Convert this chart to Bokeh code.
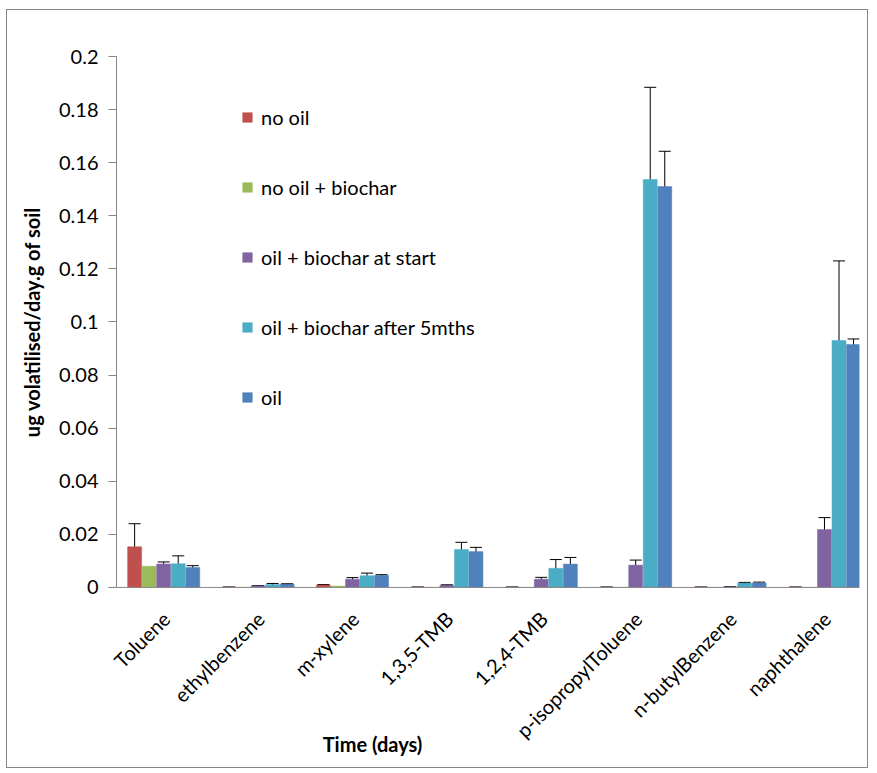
import math
from bokeh.plotting import figure
from bokeh.models import (ColumnDataSource, Whisker, TeeHead, Range1d, FixedTicker,
                          Legend, LegendItem, CustomJSTickFormatter)
from bokeh.embed import file_html
from bokeh.resources import INLINE

categories = ["Toluene", "ethylbenzene", "m-xylene", "1,3,5-TMB", "1,2,4-TMB",
              "p-isopropylToluene", "n-butylBenzene", "naphthalene"]

series_names = ["no oil", "no oil + biochar", "oil + biochar at start",
                "oil + biochar after 5mths", "oil"]
colors = ["#C0504D", "#9BBB59", "#8064A2", "#4BACC6", "#4F81BD"]

no_oil = [0.0153, 0.0001, 0.0009, 0.0001, 0.0001, 0.0001, 0.0001, 0.0001]
no_oil_err = [0.0087, 0.0, 0.0002, 0.0, 0.0, 0.0, 0.0, 0.0]
no_oil_biochar = [0.0080, 0.0, 0.0005, 0.0, 0.0, 0.0, 0.0, 0.0]
oil_bc_start = [0.0088, 0.0006, 0.0031, 0.0008, 0.0031, 0.0084, 0.0002, 0.0218]
oil_bc_start_err = [0.0008, 0.0001, 0.0006, 0.0002, 0.0007, 0.0019, 0.0, 0.0045]
oil_bc_5m = [0.0089, 0.0011, 0.0044, 0.0143, 0.0072, 0.1537, 0.0016, 0.0930]
oil_bc_5m_err = [0.0030, 0.0004, 0.0010, 0.0027, 0.0033, 0.0347, 0.0003, 0.0300]
oil = [0.0075, 0.0012, 0.0045, 0.0135, 0.0088, 0.1510, 0.0017, 0.0915]
oil_err = [0.0007, 0.0002, 0.0003, 0.0016, 0.0025, 0.0133, 0.0003, 0.0021]

y_ticks = [0, 0.02, 0.04, 0.06, 0.08, 0.1, 0.12, 0.14, 0.16, 0.18, 0.2]
x_title = "Time (days)"
y_title = "ug volatilised/day.g of soil"

values = [no_oil, no_oil_biochar, oil_bc_start, oil_bc_5m, oil]
errors = [no_oil_err, None, oil_bc_start_err, oil_bc_5m_err, oil_err]

FONT = "Lato"
W, H = 862, 759
# The frame covers (almost) the whole canvas; the value axis is pinned at x=-0.5
# and the category labels / titles are drawn in data space around the bars.
p = figure(width=W, height=H, output_backend="svg", toolbar_location=None,
           x_range=Range1d(-1.6123, 7.371), y_range=Range1d(-0.0667, 0.21394),
           x_axis_location=None,
           min_border_left=4, min_border_right=10, min_border_top=9,
           min_border_bottom=5)
p.styles = {"border": "1px solid #868686", "margin-left": "6px", "margin-top": "9px"}
p.outline_line_color = None
p.grid.visible = False

step = 0.154
bw = 0.148
items = []
for k, (name, vals, errs, col) in enumerate(zip(series_names, values, errors, colors)):
    xs = [i + (k - 2) * step for i in range(len(categories))]
    src = ColumnDataSource(dict(x=xs, top=vals))
    r = p.vbar(x="x", top="top", width=bw, source=src, fill_color=col,
               line_color=col, line_width=0.5)
    items.append(LegendItem(label=name, renderers=[r]))
    if errs is not None:
        esrc = ColumnDataSource(dict(x=xs, up=[v + e for v, e in zip(vals, errs)],
                                     lo=[max(v - e, 0) for v, e in zip(vals, errs)]))
        w = Whisker(base="x", upper="up", lower="lo", source=esrc,
                    line_color="black", line_width=1,
                    upper_head=TeeHead(size=12, line_color="black", line_width=1),
                    lower_head=TeeHead(size=12, line_color="black", line_width=1))
        p.add_layout(w)

# category axis line at y = 0 (starts at the value-axis tick)
p.segment(x0=[-0.585], y0=[0], x1=[7.371], y1=[0], line_color="#868686", line_width=1)

# rotated category labels
lab_src = ColumnDataSource(dict(x=[i + 0.026 for i in range(len(categories))],
                                y=[-0.0104] * len(categories), text=categories))
p.text(x="x", y="y", text="text", source=lab_src, angle=math.pi / 4,
       text_align="right", text_baseline="middle", text_font={"value": FONT},
       text_font_size="20px", text_color="#000000")

# axis titles
p.text(x=[2.212], y=[-0.0591], text=[x_title], text_align="center",
       text_baseline="middle", text_font={"value": FONT}, text_font_size="20px",
       text_font_style="bold", text_color="#000000")
p.text(x=[-1.4004], y=[0.1], text=[y_title], angle=math.pi / 2, text_align="center",
       text_baseline="middle", text_font={"value": FONT}, text_font_size="20px",
       text_font_style="bold", text_color="#000000")

legend = Legend(items=items, location=(230, 355), padding=0, margin=0,
                spacing=46, glyph_width=12, glyph_height=12, label_height=20,
                label_standoff=8, border_line_color=None,
                background_fill_alpha=0)
legend.label_text_font = FONT
legend.label_text_font_size = "20px"
legend.label_text_color = "#000000"
p.add_layout(legend, "center")

# value axis, pinned at the left edge of the category area
p.yaxis.fixed_location = -0.5
p.yaxis.bounds = (0, 0.2)
p.yaxis.ticker = FixedTicker(ticks=y_ticks)
p.yaxis.formatter = CustomJSTickFormatter(code="return parseFloat(tick.toFixed(2)).toString();")
p.yaxis.axis_line_color = "#868686"
p.yaxis.major_tick_line_color = "#868686"
p.yaxis.major_tick_out = 8
p.yaxis.major_tick_in = 0
p.yaxis.minor_tick_line_color = None
p.yaxis.major_label_text_font = FONT
p.yaxis.major_label_text_font_size = "20px"
p.yaxis.major_label_text_color = "#000000"
p.yaxis.major_label_standoff = 10

open("out.html", "w").write(file_html(p, INLINE))
